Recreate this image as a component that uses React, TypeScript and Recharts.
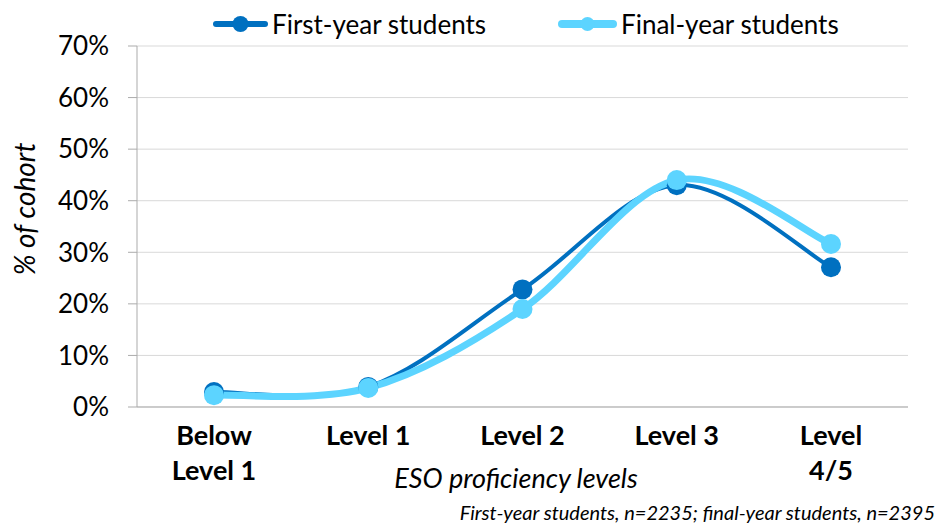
import { LineChart, Line, XAxis, YAxis, CartesianGrid } from "recharts";

const levels = ["Below Level 1", "Level 1", "Level 2", "Level 3", "Level 4/5"];
const tickLines: Record<string, string[]> = {
  "Below Level 1": ["Below", "Level 1"],
  "Level 1": ["Level 1"],
  "Level 2": ["Level 2"],
  "Level 3": ["Level 3"],
  "Level 4/5": ["Level", "4/5"],
};
const firstYear = [2.9, 3.9, 22.8, 43.0, 27.1];
const finalYear = [2.3, 3.7, 19.0, 44.0, 31.6];
const yTicks = [0, 10, 20, 30, 40, 50, 60, 70];

const DARK = "#0070C0";
const LIGHT = "#5CD4FF";
const FONT = "Lato, 'Open Sans', sans-serif";

const data = levels.map((level, i) => ({
  level,
  first: firstYear[i],
  final: finalYear[i],
}));

// Excel-like smoothed line (Catmull-Rom as cubic beziers)
function excelSmooth(context: any) {
  let pts: [number, number][] = [];
  return {
    areaStart() {},
    areaEnd() {},
    lineStart() {
      pts = [];
    },
    point(x: number, y: number) {
      pts.push([+x, +y]);
    },
    lineEnd() {
      if (!pts.length) return;
      context.moveTo(pts[0][0], pts[0][1]);
      for (let i = 0; i < pts.length - 1; i++) {
        const p0 = pts[Math.max(0, i - 1)];
        const p1 = pts[i];
        const p2 = pts[i + 1];
        const p3 = pts[Math.min(pts.length - 1, i + 2)];
        context.bezierCurveTo(
          p1[0] + (p2[0] - p0[0]) / 6,
          p1[1] + (p2[1] - p0[1]) / 6,
          p2[0] - (p3[0] - p1[0]) / 6,
          p2[1] - (p3[1] - p1[1]) / 6,
          p2[0],
          p2[1]
        );
      }
    },
  };
}

function LevelTick({ x, y, payload }: any) {
  const lines = tickLines[payload.value] ?? [payload.value];
  return (
    <g>
      {lines.map((t, i) => (
        <text
          key={t}
          x={x}
          y={y + 30 + i * 35}
          textAnchor="middle"
          fontFamily={FONT}
          fontWeight={700}
          fontSize={27}
          fill="#000"
        >
          {t}
        </text>
      ))}
    </g>
  );
}

function LegendItem({
  left,
  iconWidth,
  color,
  width,
  r,
  label,
}: {
  left: number;
  iconWidth: number;
  color: string;
  width: number;
  r: number;
  label: string;
}) {
  return (
    <div
      style={{
        position: "absolute",
        left,
        top: 24,
        transform: "translateY(-50%)",
        display: "flex",
        alignItems: "center",
        whiteSpace: "nowrap",
        fontSize: 26,
        color: "#000",
      }}
    >
      <svg width={iconWidth} height={20} style={{ flexShrink: 0 }}>
        <line
          x1={width / 2}
          y1={10}
          x2={iconWidth - width / 2}
          y2={10}
          stroke={color}
          strokeWidth={width}
          strokeLinecap="round"
        />
        <circle cx={iconWidth / 2} cy={10} r={r} fill={color} />
      </svg>
      <span style={{ marginLeft: 4 }}>{label}</span>
    </div>
  );
}

export default function App() {
  return (
    <div
      style={{
        position: "absolute",
        left: 0,
        top: 0,
        width: 941,
        height: 526,
        background: "#fff",
        fontFamily: FONT,
      }}
    >
      <LineChart
        width={941}
        height={526}
        data={data}
        margin={{ top: 46, right: 33, bottom: 39, left: 0 }}
      >
        <CartesianGrid stroke="#D9D9D9" vertical={false} />
        <XAxis
          dataKey="level"
          height={80}
          tickLine={false}
          axisLine={{ stroke: "#ABABAB" }}
          padding={{ left: 77, right: 77 }}
          tick={<LevelTick />}
          interval={0}
        />
        <YAxis
          width={137}
          domain={[0, 70]}
          ticks={yTicks}
          tickFormatter={(v) => `${v}%`}
          tickSize={9}
          tickMargin={19}
          tickLine={{ stroke: "#ABABAB" }}
          axisLine={{ stroke: "#ABABAB" }}
          tick={{ fontSize: 26, fill: "#000", fontFamily: FONT }}
        />
        <Line
          dataKey="first"
          type={excelSmooth as any}
          stroke={DARK}
          strokeWidth={4}
          dot={{ r: 10, fill: DARK, stroke: DARK, strokeWidth: 0 }}
          activeDot={false}
          isAnimationActive={false}
        />
        <Line
          dataKey="final"
          type={excelSmooth as any}
          stroke={LIGHT}
          strokeWidth={7}
          dot={{ r: 10, fill: LIGHT, stroke: LIGHT, strokeWidth: 0 }}
          activeDot={false}
          isAnimationActive={false}
        />
      </LineChart>

      <LegendItem left={213} iconWidth={55} color={DARK} width={6} r={8} label="First-year students" />
      <LegendItem left={558} iconWidth={59} color={LIGHT} width={8} r={7} label="Final-year students" />

      <div
        style={{
          position: "absolute",
          left: 24,
          top: 209,
          transform: "translate(-50%, -50%) rotate(-90deg)",
          whiteSpace: "nowrap",
          fontStyle: "italic",
          fontSize: 28,
          color: "#000",
        }}
      >
        % of cohort
      </div>

      <div
        style={{
          position: "absolute",
          left: 516,
          top: 477,
          transform: "translate(-50%, -50%)",
          whiteSpace: "nowrap",
          fontStyle: "italic",
          fontSize: 27,
          color: "#000",
        }}
      >
        ESO proficiency levels
      </div>

      <div
        style={{
          position: "absolute",
          right: 6,
          top: 512,
          transform: "translateY(-50%)",
          whiteSpace: "nowrap",
          fontStyle: "italic",
          fontSize: 20,
          color: "#000",
        }}
      >
        First-year students, n=2235; final-year students, n=2395
      </div>
    </div>
  );
}
